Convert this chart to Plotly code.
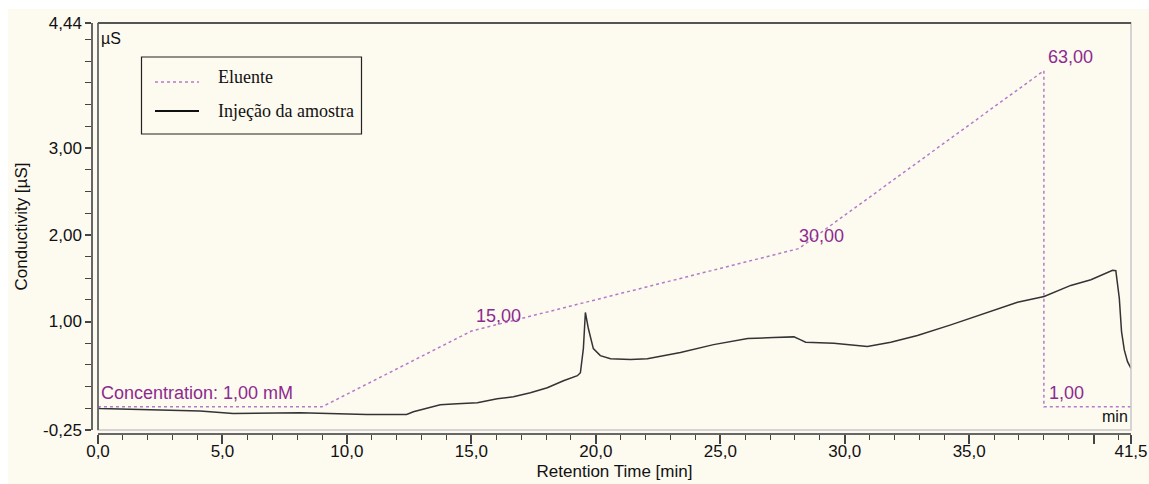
import plotly.graph_objects as go

# Eluent gradient (drawn on conductivity scale as in the picture)
eluent_t = [0.0, 9.0, 15.0, 28.15, 38.0, 38.0, 41.5]
eluent_v = [0.017, 0.017, 0.89, 1.84, 3.89, 0.017, 0.017]

# Sample injection trace
trace_t = [0.0, 0.0, 0.08, 2.0, 4.1, 5.43, 8.12, 10.8, 12.14, 12.4, 12.67, 13.23, 13.75, 14.43,
           15.24, 16.04, 16.69, 17.37, 18.05, 18.70, 19.26, 19.38, 19.50, 19.58, 19.70, 19.90,
           20.18, 20.59, 21.39, 22.07, 23.40, 24.73, 26.10, 27.14, 27.96, 28.23, 28.43, 29.56,
           30.91, 31.85, 32.92, 34.26, 35.60, 36.94, 38.01, 39.08, 39.89, 40.76, 40.89, 41.03,
           41.12, 41.23, 41.36, 41.5]
trace_v = [-0.25, 0.0, -0.002, -0.015, -0.03, -0.06, -0.052, -0.071, -0.071, -0.072, -0.040, 0.006, 0.040, 0.052,
           0.064, 0.110, 0.133, 0.179, 0.237, 0.318, 0.376, 0.410, 0.69, 1.104, 0.919, 0.688,
           0.607, 0.572, 0.561, 0.572, 0.642, 0.734, 0.803, 0.815, 0.823, 0.788, 0.761, 0.749,
           0.711, 0.761, 0.838, 0.961, 1.096, 1.223, 1.289, 1.416, 1.482, 1.590, 1.586, 1.27,
           0.884, 0.673, 0.538, 0.46]

y_tickvals = [-0.25, 1.0, 2.0, 3.0, 4.44]
y_ticktext = ["-0,25", "1,00", "2,00", "3,00", "4,44"]
x_tickvals = [0, 5, 10, 15, 20, 25, 30, 35, 40, 41.5]
x_ticktext = ["0,0", "5,0", "10,0", "15,0", "20,0", "25,0", "30,0", "35,0", "", "41,5"]

# Gradient labels
grad_labels = ["Concentration: 1,00 mM", "15,00", "30,00", "63,00", "1,00"]
grad_label_t = [0.05, 15.1, 28.1, 38.1, 38.13]
grad_label_v = [0.171, 1.058, 1.98, 4.044, 0.171]

legend_names = ["Eluente", "Injeção da amostra"]

BG = "#FDFAF0"
PURPLE_TXT = "#8E2A8E"
PURPLE_LINE = "#B47CC8"
DARK = "#333333"

W, H = 1149, 484
ml, mr, mt, mb = 92, 18, 23, 50
pw = W - ml - mr
ph = H - mt - mb

def px_x(p):
    return (p - ml) / pw

def px_y(p):
    return (H - mb - p) / ph

fig = go.Figure()
fig.add_trace(go.Scatter(x=eluent_t, y=eluent_v, mode="lines", name=legend_names[0],
                         showlegend=False,
                         line=dict(color=PURPLE_LINE, width=1.5, dash="dot")))
fig.add_trace(go.Scatter(x=trace_t, y=trace_v, mode="lines", name=legend_names[1],
                         showlegend=False,
                         line=dict(color=DARK, width=1.5)))

annotations = []
for txt, t, v in zip(grad_labels, grad_label_t, grad_label_v):
    annotations.append(dict(x=t, y=v, xref="x", yref="y", text=txt, showarrow=False,
                            xanchor="left", yanchor="middle",
                            font=dict(family="Liberation Sans", size=18, color=PURPLE_TXT)))
annotations.append(dict(x=41.45, y=-0.09, xref="x", yref="y", text="min", showarrow=False,
                        xanchor="right", yanchor="middle",
                        font=dict(family="Liberation Sans", size=16, color="#111")))
annotations.append(dict(x=0.05, y=4.257, xref="x", yref="y", text="µS", showarrow=False,
                        xanchor="left", yanchor="middle",
                        font=dict(family="Liberation Sans", size=16, color="#111")))

# manual legend text
annotations.append(dict(x=px_x(216), y=px_y(77), xref="paper", yref="paper", text=legend_names[0],
                        showarrow=False, xanchor="left", yanchor="middle",
                        font=dict(family="Liberation Serif", size=18, color="#111")))
annotations.append(dict(x=px_x(216), y=px_y(111), xref="paper", yref="paper", text=legend_names[1],
                        showarrow=False, xanchor="left", yanchor="middle",
                        font=dict(family="Liberation Serif", size=18, color="#111")))

shapes = [
    # plot frame
    dict(type="rect", xref="x domain", yref="y domain", x0=0, x1=1, y0=0, y1=1,
         line=dict(color="#C8C8C8", width=1.5)),
    dict(type="line", xref="x domain", yref="y domain", x0=0, x1=1, y0=1, y1=1,
         line=dict(color="#555555", width=2)),
    dict(type="line", xref="x domain", yref="y domain", x0=0, x1=0, y0=0, y1=1,
         line=dict(color="#555555", width=1.5)),
    # white strips at image edges
    dict(type="rect", xref="paper", yref="paper", x0=px_x(0), x1=px_x(W), y0=px_y(9), y1=px_y(0),
         fillcolor="white", line=dict(width=0), layer="below"),
    dict(type="rect", xref="paper", yref="paper", x0=px_x(0), x1=px_x(8), y0=px_y(H), y1=px_y(0),
         fillcolor="white", line=dict(width=0), layer="below"),
    # legend box and samples
    dict(type="rect", xref="paper", yref="paper", x0=px_x(141.5), x1=px_x(361.5),
         y0=px_y(134), y1=px_y(57), fillcolor=BG, line=dict(color="#222", width=1.2)),
    dict(type="line", xref="paper", yref="paper", x0=px_x(155), x1=px_x(199),
         y0=px_y(82), y1=px_y(82), line=dict(color=PURPLE_LINE, width=1.5, dash="dot")),
    dict(type="line", xref="paper", yref="paper", x0=px_x(155), x1=px_x(199),
         y0=px_y(111), y1=px_y(111), line=dict(color="#111", width=2.2)),
]

fig.update_layout(
    width=W, height=H,
    margin=dict(l=ml, r=mr, t=mt, b=mb, pad=0, autoexpand=False),
    paper_bgcolor=BG, plot_bgcolor=BG,
    font=dict(family="Liberation Sans", size=17, color="#111"),
    showlegend=False,
    annotations=annotations,
    shapes=shapes,
    xaxis=dict(range=[0, 41.5], domain=[px_x(98), 1], anchor="free", position=0,
               automargin=False,
               tickmode="array", tickvals=x_tickvals, ticktext=x_ticktext,
               ticks="outside", ticklen=9, tickwidth=1.5, tickcolor="#444",
               ticklabelstandoff=-7,
               showline=True, linecolor="#666", linewidth=1.5,
               showgrid=False, zeroline=False,
               minor=dict(dtick=1, tick0=0, ticks="outside", ticklen=5, tickcolor="#444", tickwidth=1),
               tickfont=dict(family="Liberation Sans", size=17, color="#111"),
               title=dict(text="Retention Time [min]", standoff=4,
                          font=dict(family="Liberation Sans", size=17, color="#111"))),
    yaxis=dict(range=[-0.25, 4.44], domain=[px_y(430), 1], anchor="free", position=0,
               automargin=False,
               tickmode="array", tickvals=y_tickvals, ticktext=y_ticktext,
               ticks="outside", ticklen=6, tickwidth=1.5, tickcolor="#444",
               showline=True, linecolor="#666", linewidth=1.5,
               showgrid=False, zeroline=False,
               minor=dict(dtick=0.25, tick0=0, ticks="outside", ticklen=6, tickcolor="#444", tickwidth=1),
               tickfont=dict(family="Liberation Sans", size=17, color="#111"),
               title=dict(text="Conductivity [µS]", standoff=10,
                          font=dict(family="Liberation Sans", size=17, color="#111"))),
)

fig.write_html("out.html")
